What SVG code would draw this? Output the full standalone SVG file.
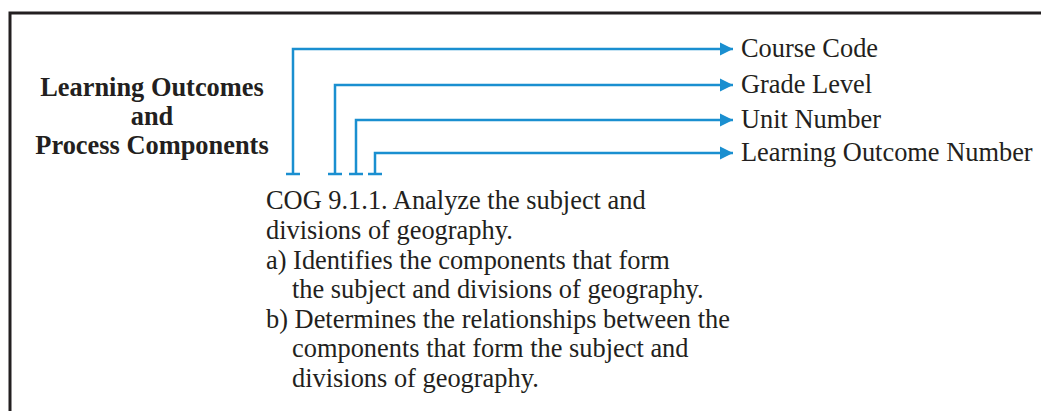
<svg xmlns="http://www.w3.org/2000/svg" width="1041" height="411" viewBox="0 0 1041 411">
<style>
.frame{fill:none;stroke:#231f20;stroke-width:3}
.conn{fill:none;stroke:#1a8fd0;stroke-width:2.5}
.lbl{font-family:"Liberation Serif","Times New Roman",serif;font-size:26.4px;fill:#231f20}
.title{font-family:"Liberation Serif","Times New Roman",serif;font-size:26.4px;font-weight:bold;fill:#231f20;text-anchor:middle}
</style>
<defs>
<marker id="arr" markerUnits="userSpaceOnUse" markerWidth="14" markerHeight="14" refX="13" refY="7" orient="auto">
<path d="M0,0.5 L13,7 L0,13.5 Z" fill="#1a8fd0"/>
</marker>
</defs>
<rect width="1041" height="411" fill="#ffffff"/>
<path class="frame" d="M10,411 V13 H1041"/>
<g id="title">
<text class="title" x="152" y="96">Learning Outcomes</text>
<text class="title" x="152" y="125">and</text>
<text class="title" x="152" y="154">Process Components</text>
</g>
<g id="connectors">
<path class="conn" d="M293,174 V49 H733" marker-end="url(#arr)"/>
<path class="conn" d="M286,174 H300"/>
<path class="conn" d="M335,174 V85 H733" marker-end="url(#arr)"/>
<path class="conn" d="M328,174 H342"/>
<path class="conn" d="M356,174 V120 H733" marker-end="url(#arr)"/>
<path class="conn" d="M349,174 H363"/>
<path class="conn" d="M375,174 V153 H733" marker-end="url(#arr)"/>
<path class="conn" d="M368,174 H382"/>
</g>
<g id="course-code"><text class="lbl" x="741" y="57">Course Code</text></g>
<g id="grade-level"><text class="lbl" x="741" y="93">Grade Level</text></g>
<g id="unit-number"><text class="lbl" x="741" y="128">Unit Number</text></g>
<g id="outcome-number"><text class="lbl" x="741" y="161">Learning Outcome Number</text></g>
<g id="outcome-text">
<text class="lbl" x="266" y="209">COG 9.1.1. Analyze the subject and</text>
<text class="lbl" x="266" y="239">divisions of geography.</text>
<text class="lbl" x="266" y="269">a) Identifies the components that form</text>
<text class="lbl" x="292" y="298">the subject and divisions of geography.</text>
<text class="lbl" x="266" y="328">b) Determines the relationships between the</text>
<text class="lbl" x="292" y="357">components that form the subject and</text>
<text class="lbl" x="292" y="387">divisions of geography.</text>
</g>
</svg>
